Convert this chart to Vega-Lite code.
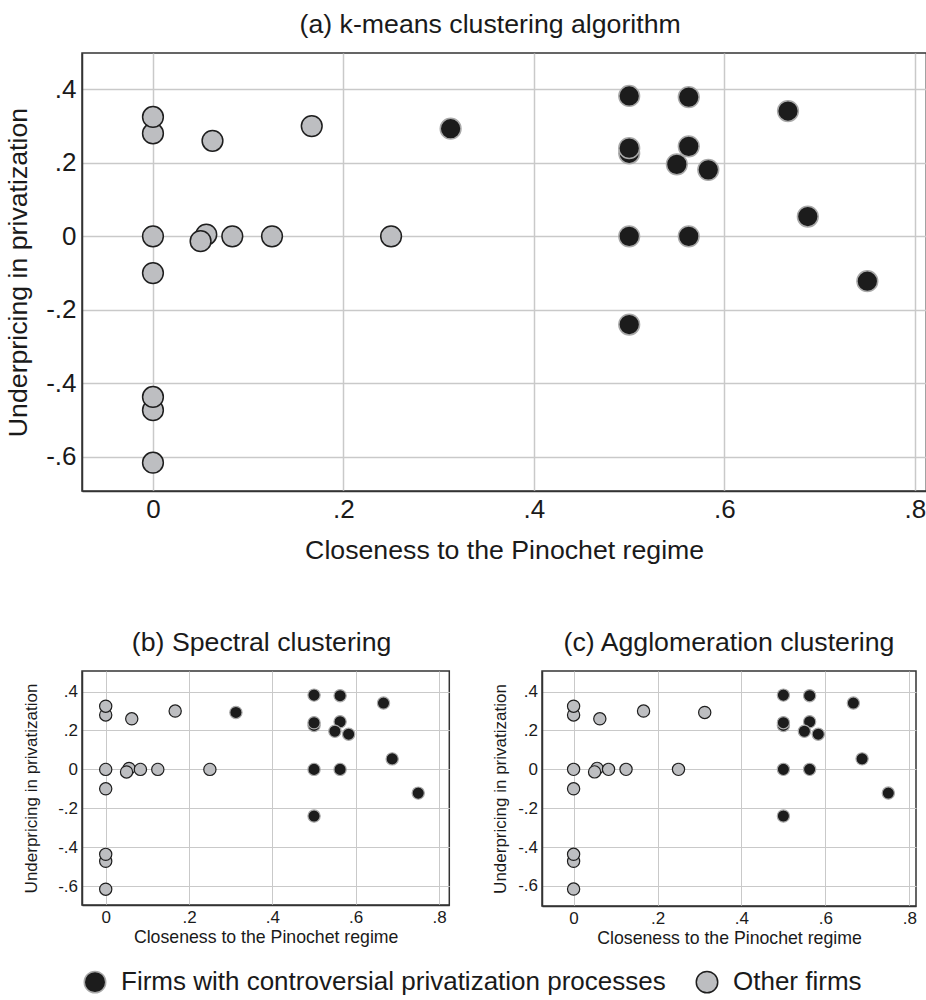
{
  "$schema": "https://vega.github.io/schema/vega-lite/v6.json",
  "padding": {"left": 4, "top": 11, "right": 0, "bottom": 0},
  "config": {
    "font": "Liberation Sans",
    "view": {"stroke": "#333333", "strokeWidth": 1.5},
    "axis": {"gridColor": "#c9c9c9", "domainColor": "#333333", "domainWidth": 1.5, "ticks": false, "labelColor": "#1a1a1a", "titleColor": "#1a1a1a", "titleFontWeight": "normal"},
    "title": {"fontWeight": "normal", "color": "#1a1a1a", "anchor": "middle"},
    "legend": {"orient": "bottom", "direction": "horizontal", "offset": 21, "labelFontSize": 26, "labelColor": "#1a1a1a", "symbolSize": 460, "symbolStrokeWidth": 1.5, "labelOffset": 13, "columnPadding": 27, "labelLimit": 900}
  },
  "datasets": {
    "a": [
      {"x": 0, "y": 0.28, "group": "Other firms"},
      {"x": 0, "y": 0.325, "group": "Other firms"},
      {"x": 0.0625, "y": 0.26, "group": "Other firms"},
      {"x": 0.1667, "y": 0.30, "group": "Other firms"},
      {"x": 0, "y": 0, "group": "Other firms"},
      {"x": 0.056, "y": 0.005, "group": "Other firms"},
      {"x": 0.05, "y": -0.013, "group": "Other firms"},
      {"x": 0.0833, "y": 0, "group": "Other firms"},
      {"x": 0.125, "y": 0, "group": "Other firms"},
      {"x": 0.25, "y": 0, "group": "Other firms"},
      {"x": 0, "y": -0.10, "group": "Other firms"},
      {"x": 0, "y": -0.473, "group": "Other firms"},
      {"x": 0, "y": -0.437, "group": "Other firms"},
      {"x": 0, "y": -0.616, "group": "Other firms"},
      {"x": 0.3125, "y": 0.293, "group": "Firms with controversial privatization processes"},
      {"x": 0.5, "y": 0.382, "group": "Firms with controversial privatization processes"},
      {"x": 0.5625, "y": 0.379, "group": "Firms with controversial privatization processes"},
      {"x": 0.6667, "y": 0.341, "group": "Firms with controversial privatization processes"},
      {"x": 0.5, "y": 0.226, "group": "Firms with controversial privatization processes"},
      {"x": 0.5, "y": 0.24, "group": "Firms with controversial privatization processes"},
      {"x": 0.5625, "y": 0.245, "group": "Firms with controversial privatization processes"},
      {"x": 0.55, "y": 0.196, "group": "Firms with controversial privatization processes"},
      {"x": 0.583, "y": 0.181, "group": "Firms with controversial privatization processes"},
      {"x": 0.6875, "y": 0.054, "group": "Firms with controversial privatization processes"},
      {"x": 0.5, "y": 0, "group": "Firms with controversial privatization processes"},
      {"x": 0.5625, "y": 0, "group": "Firms with controversial privatization processes"},
      {"x": 0.75, "y": -0.122, "group": "Firms with controversial privatization processes"},
      {"x": 0.5, "y": -0.24, "group": "Firms with controversial privatization processes"}
    ],
    "b": [
      {"x": 0, "y": 0.28, "group": "Other firms"},
      {"x": 0, "y": 0.325, "group": "Other firms"},
      {"x": 0.0625, "y": 0.26, "group": "Other firms"},
      {"x": 0.1667, "y": 0.30, "group": "Other firms"},
      {"x": 0, "y": 0, "group": "Other firms"},
      {"x": 0.056, "y": 0.005, "group": "Other firms"},
      {"x": 0.05, "y": -0.013, "group": "Other firms"},
      {"x": 0.0833, "y": 0, "group": "Other firms"},
      {"x": 0.125, "y": 0, "group": "Other firms"},
      {"x": 0.25, "y": 0, "group": "Other firms"},
      {"x": 0, "y": -0.10, "group": "Other firms"},
      {"x": 0, "y": -0.473, "group": "Other firms"},
      {"x": 0, "y": -0.437, "group": "Other firms"},
      {"x": 0, "y": -0.616, "group": "Other firms"},
      {"x": 0.3125, "y": 0.293, "group": "Firms with controversial privatization processes"},
      {"x": 0.5, "y": 0.382, "group": "Firms with controversial privatization processes"},
      {"x": 0.5625, "y": 0.379, "group": "Firms with controversial privatization processes"},
      {"x": 0.6667, "y": 0.341, "group": "Firms with controversial privatization processes"},
      {"x": 0.5, "y": 0.226, "group": "Firms with controversial privatization processes"},
      {"x": 0.5, "y": 0.24, "group": "Firms with controversial privatization processes"},
      {"x": 0.5625, "y": 0.245, "group": "Firms with controversial privatization processes"},
      {"x": 0.55, "y": 0.196, "group": "Firms with controversial privatization processes"},
      {"x": 0.583, "y": 0.181, "group": "Firms with controversial privatization processes"},
      {"x": 0.6875, "y": 0.054, "group": "Firms with controversial privatization processes"},
      {"x": 0.5, "y": 0, "group": "Firms with controversial privatization processes"},
      {"x": 0.5625, "y": 0, "group": "Firms with controversial privatization processes"},
      {"x": 0.75, "y": -0.122, "group": "Firms with controversial privatization processes"},
      {"x": 0.5, "y": -0.24, "group": "Firms with controversial privatization processes"}
    ],
    "c": [
      {"x": 0, "y": 0.28, "group": "Other firms"},
      {"x": 0, "y": 0.325, "group": "Other firms"},
      {"x": 0.0625, "y": 0.26, "group": "Other firms"},
      {"x": 0.1667, "y": 0.30, "group": "Other firms"},
      {"x": 0, "y": 0, "group": "Other firms"},
      {"x": 0.056, "y": 0.005, "group": "Other firms"},
      {"x": 0.05, "y": -0.013, "group": "Other firms"},
      {"x": 0.0833, "y": 0, "group": "Other firms"},
      {"x": 0.125, "y": 0, "group": "Other firms"},
      {"x": 0.25, "y": 0, "group": "Other firms"},
      {"x": 0, "y": -0.10, "group": "Other firms"},
      {"x": 0, "y": -0.473, "group": "Other firms"},
      {"x": 0, "y": -0.437, "group": "Other firms"},
      {"x": 0, "y": -0.616, "group": "Other firms"},
      {"x": 0.3125, "y": 0.293, "group": "Other firms"},
      {"x": 0.5, "y": 0.382, "group": "Firms with controversial privatization processes"},
      {"x": 0.5625, "y": 0.379, "group": "Firms with controversial privatization processes"},
      {"x": 0.6667, "y": 0.341, "group": "Firms with controversial privatization processes"},
      {"x": 0.5, "y": 0.226, "group": "Firms with controversial privatization processes"},
      {"x": 0.5, "y": 0.24, "group": "Firms with controversial privatization processes"},
      {"x": 0.5625, "y": 0.245, "group": "Firms with controversial privatization processes"},
      {"x": 0.55, "y": 0.196, "group": "Firms with controversial privatization processes"},
      {"x": 0.583, "y": 0.181, "group": "Firms with controversial privatization processes"},
      {"x": 0.6875, "y": 0.054, "group": "Firms with controversial privatization processes"},
      {"x": 0.5, "y": 0, "group": "Firms with controversial privatization processes"},
      {"x": 0.5625, "y": 0, "group": "Firms with controversial privatization processes"},
      {"x": 0.75, "y": -0.122, "group": "Firms with controversial privatization processes"},
      {"x": 0.5, "y": -0.24, "group": "Firms with controversial privatization processes"}
    ]
  },
  "align": "none",
  "spacing": 64,
  "resolve": {"scale": {"fill": "shared", "stroke": "shared"}},
  "vconcat": [
    {
      "title": {"text": "(a) k-means clustering algorithm", "fontSize": 26.7, "offset": 14, "dx": -14},
      "width": 844.3, "height": 438,
      "data": {"name": "a"},
      "mark": {"type": "point", "filled": true, "opacity": 1, "strokeWidth": 1.5, "size": 430},
      "encoding": {
        "x": {"field": "x", "type": "quantitative", "title": "Closeness to the Pinochet regime",
          "scale": {"domain": [-0.0745, 0.8119], "nice": false, "zero": false},
          "axis": {"values": [0, 0.2, 0.4, 0.6, 0.8], "labelExpr": "datum.value == 0 ? '0' : (datum.value < 0 ? '-' : '') + replace(format(abs(datum.value), '.1f'), '0.', '.')", "labelFontSize": 26, "titleFontSize": 26.7, "labelPadding": 5, "titlePadding": 15, "gridWidth": 1.5}},
        "y": {"field": "y", "type": "quantitative", "title": "Underpricing in privatization",
          "scale": {"domain": [-0.693, 0.499], "nice": false, "zero": false},
          "axis": {"values": [-0.6, -0.4, -0.2, 0, 0.2, 0.4], "labelExpr": "datum.value == 0 ? '0' : (datum.value < 0 ? '-' : '') + replace(format(abs(datum.value), '.1f'), '0.', '.')", "labelFontSize": 26, "titleFontSize": 26.7, "labelPadding": 6, "titlePadding": 13, "gridWidth": 1.5}},
        "fill": {"field": "group", "type": "nominal", "title": null,
          "scale": {"domain": ["Firms with controversial privatization processes", "Other firms"], "range": ["#1c1c1c", "#bdbec1"]}},
        "stroke": {"field": "group", "type": "nominal", "title": null,
          "scale": {"domain": ["Firms with controversial privatization processes", "Other firms"], "range": ["#a9a9a9", "#1e1e1e"]}}
      }
    },
    {
      "align": "none",
      "spacing": 39,
      "hconcat": [
        {
          "title": {"text": "(b) Spectral clustering", "fontSize": 26.7, "offset": 14, "dx": -4},
          "width": 367.3, "height": 234,
          "data": {"name": "b"},
          "mark": {"type": "point", "filled": true, "opacity": 1, "strokeWidth": 1.2, "size": 150},
          "encoding": {
            "x": {"field": "x", "type": "quantitative", "title": "Closeness to the Pinochet regime",
              "scale": {"domain": [-0.0569, 0.8246], "nice": false, "zero": false},
              "axis": {"values": [0, 0.2, 0.4, 0.6, 0.8], "labelExpr": "datum.value == 0 ? '0' : (datum.value < 0 ? '-' : '') + replace(format(abs(datum.value), '.1f'), '0.', '.')", "labelFontSize": 17, "titleFontSize": 17.7, "labelPadding": 4, "titlePadding": 3, "gridWidth": 1}},
            "y": {"field": "y", "type": "quantitative", "title": "Underpricing in privatization",
              "scale": {"domain": [-0.6975, 0.506], "nice": false, "zero": false},
              "axis": {"values": [-0.6, -0.4, -0.2, 0, 0.2, 0.4], "labelExpr": "datum.value == 0 ? '0' : (datum.value < 0 ? '-' : '') + replace(format(abs(datum.value), '.1f'), '0.', '.')", "labelFontSize": 17, "titleFontSize": 17, "labelPadding": 4.5, "titlePadding": 17, "gridWidth": 1}},
            "fill": {"field": "group", "type": "nominal", "title": null},
            "stroke": {"field": "group", "type": "nominal", "title": null}
          }
        },
        {
          "title": {"text": "(c) Agglomeration clustering", "fontSize": 26.7, "offset": 14},
          "width": 374, "height": 235,
          "data": {"name": "c"},
          "mark": {"type": "point", "filled": true, "opacity": 1, "strokeWidth": 1.2, "size": 150},
          "encoding": {
            "x": {"field": "x", "type": "quantitative", "title": "Closeness to the Pinochet regime",
              "scale": {"domain": [-0.0753, 0.816], "nice": false, "zero": false},
              "axis": {"values": [0, 0.2, 0.4, 0.6, 0.8], "labelExpr": "datum.value == 0 ? '0' : (datum.value < 0 ? '-' : '') + replace(format(abs(datum.value), '.1f'), '0.', '.')", "labelFontSize": 17, "titleFontSize": 17.7, "labelPadding": 4, "titlePadding": 3, "gridWidth": 1}},
            "y": {"field": "y", "type": "quantitative", "title": "Underpricing in privatization",
              "scale": {"domain": [-0.703, 0.506], "nice": false, "zero": false},
              "axis": {"values": [-0.6, -0.4, -0.2, 0, 0.2, 0.4], "labelExpr": "datum.value == 0 ? '0' : (datum.value < 0 ? '-' : '') + replace(format(abs(datum.value), '.1f'), '0.', '.')", "labelFontSize": 17, "titleFontSize": 17, "labelPadding": 4.5, "titlePadding": 8, "gridWidth": 1}},
            "fill": {"field": "group", "type": "nominal", "title": null},
            "stroke": {"field": "group", "type": "nominal", "title": null}
          }
        }
      ]
    }
  ]
}
